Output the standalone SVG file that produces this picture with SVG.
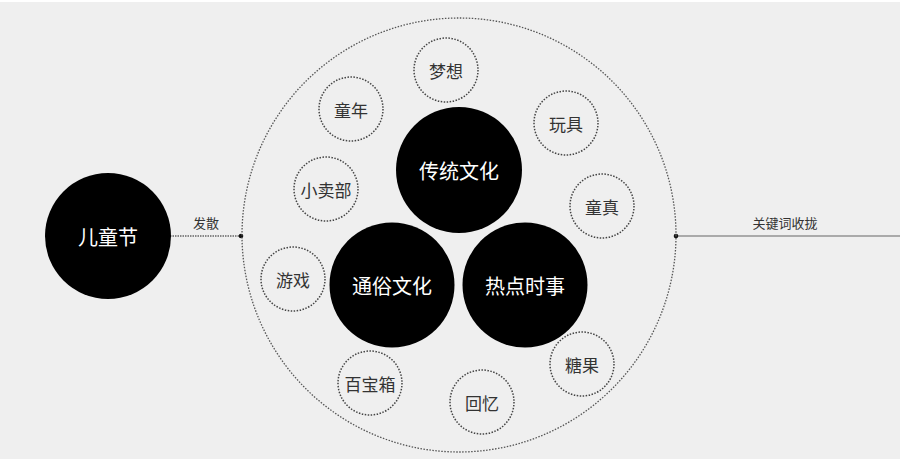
<svg xmlns="http://www.w3.org/2000/svg" width="900" height="463" viewBox="0 0 900 463">
<style>
.cjk{font-family:"Noto Sans CJK SC","Noto Sans",sans-serif;text-anchor:middle;dominant-baseline:central}
.big{fill:#000}
.bigt{fill:#fff;font-size:20px}
.sm{fill:none;stroke:#444;stroke-width:1.5;stroke-dasharray:1.5 1.5}
.smt{fill:#333;font-size:17px}
.lbl{fill:#333;font-size:13px}
</style>
<rect x="0" y="0" width="900" height="463" fill="#fff"/>
<rect x="0" y="2" width="900" height="457" fill="#efefef"/>
<g id="connectors">
<line x1="170" y1="236" x2="241" y2="236" stroke="#666" stroke-width="1.5" stroke-dasharray="1.5 1"/>
<circle cx="241" cy="236" r="2.3" fill="#111"/>
<line x1="676" y1="236" x2="900" y2="236" stroke="#aaa" stroke-width="1.8"/>
<circle cx="676" cy="236" r="2.3" fill="#111"/>
<text class="cjk lbl" x="206" y="222">发散</text>
<text class="cjk lbl" x="785" y="222">关键词收拢</text>
</g>
<g id="outer"><circle cx="459" cy="235" r="217" fill="none" stroke="#555" stroke-width="1.3" stroke-dasharray="1.5 1.5"/></g>
<g id="n-ertongjie"><circle class="big" cx="108" cy="236" r="63"/><text class="cjk bigt" x="108" y="236">儿童节</text></g>
<g id="n-chuantong"><circle class="big" cx="459" cy="170" r="63"/><text class="cjk bigt" x="459" y="170">传统文化</text></g>
<g id="n-tongsu"><circle class="big" cx="392" cy="285" r="62.5"/><text class="cjk bigt" x="392" y="285">通俗文化</text></g>
<g id="n-redian"><circle class="big" cx="525" cy="285" r="62.5"/><text class="cjk bigt" x="525" y="285">热点时事</text></g>
<g id="n-mengxiang"><circle class="sm" cx="446" cy="70" r="32"/><text class="cjk smt" x="446" y="70">梦想</text></g>
<g id="n-tongnian"><circle class="sm" cx="351" cy="109" r="32"/><text class="cjk smt" x="351" y="109">童年</text></g>
<g id="n-wanju"><circle class="sm" cx="566" cy="123" r="32"/><text class="cjk smt" x="566" y="123">玩具</text></g>
<g id="n-xiaomaibu"><circle class="sm" cx="326" cy="189" r="32"/><text class="cjk smt" x="326" y="189">小卖部</text></g>
<g id="n-tongzhen"><circle class="sm" cx="602" cy="206" r="32"/><text class="cjk smt" x="602" y="206">童真</text></g>
<g id="n-youxi"><circle class="sm" cx="293" cy="279" r="32"/><text class="cjk smt" x="293" y="279">游戏</text></g>
<g id="n-baibaoxiang"><circle class="sm" cx="370" cy="383" r="32"/><text class="cjk smt" x="370" y="383">百宝箱</text></g>
<g id="n-huiyi"><circle class="sm" cx="482" cy="402" r="32"/><text class="cjk smt" x="482" y="402">回忆</text></g>
<g id="n-tangguo"><circle class="sm" cx="582" cy="364" r="32"/><text class="cjk smt" x="582" y="364">糖果</text></g>
</svg>
